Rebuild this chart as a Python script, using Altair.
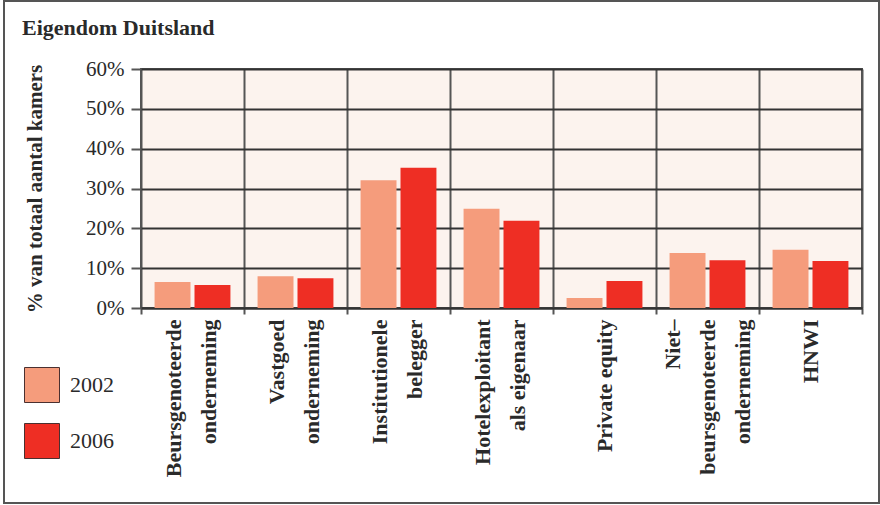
import altair as alt
import pandas as pd

# Ownership of hotel rooms in Germany, share of total rooms by owner type
categories = [
    "Beursgenoteerde|onderneming",
    "Vastgoed|onderneming",
    "Institutionele|belegger",
    "Hotelexploitant|als eigenaar",
    "Private equity",
    "Niet–|beursgenoteerde|onderneming",
    "HNWI",
]
share_2002 = [0.065, 0.080, 0.321, 0.249, 0.025, 0.138, 0.146]
share_2006 = [0.058, 0.075, 0.352, 0.219, 0.068, 0.120, 0.118]
years = ["2002", "2006"]
y_ticks = [0, 0.1, 0.2, 0.3, 0.4, 0.5, 0.6]
title_text = "Eigendom Duitsland"

rows = []
for cat, a, b in zip(categories, share_2002, share_2006):
    rows.append({"eigenaar": cat, "jaar": years[0], "aandeel": a})
    rows.append({"eigenaar": cat, "jaar": years[1], "aandeel": b})
df = pd.DataFrame(rows)

SERIF = "Liberation Serif"
INK = "#2a2a2a"
W, H = 721, 239
PAD_L, PAD_T = 141, 69
LINE_H = 35

# multi-line category labels are shifted so the block of lines is centred on its band
n_breaks = "length(split(datum.value, '|')) - 1"

bars = alt.Chart(df).mark_bar().encode(
    x=alt.X(
        "eigenaar:N",
        sort=categories,
        scale=alt.Scale(paddingInner=0, paddingOuter=0),
        axis=alt.Axis(
            title=None,
            labelAngle=-90,
            labelAlign="right",
            labelBaseline="middle",
            labelExpr="split(datum.label, '|')",
            labelFont=SERIF,
            labelFontSize=22,
            labelFontWeight="bold",
            labelColor=INK,
            labelLineHeight=LINE_H,
            labelPadding=5,
            labelOffset={
                "condition": [
                    {"test": f"{n_breaks} == 2", "value": -LINE_H},
                    {"test": f"{n_breaks} == 1", "value": -LINE_H / 2 - 2},
                ],
                "value": 0,
            },
            tickBand="extent",
            tickSize=6,
            tickColor="#555555",
            tickWidth=2,
            grid=True,
            gridColor="#555555",
            gridWidth=2,
            domainColor="#333333",
            domainWidth=2,
        ),
    ),
    xOffset=alt.XOffset(
        "jaar:N",
        scale=alt.Scale(paddingInner=0.1, paddingOuter=0.34),
    ),
    y=alt.Y(
        "aandeel:Q",
        scale=alt.Scale(domain=[0, 0.6], nice=False),
        axis=alt.Axis(
            title="% van totaal aantal kamers",
            titleFont=SERIF,
            titleFontSize=21,
            titleFontWeight="bold",
            titleColor=INK,
            titlePadding=40,
            values=y_ticks,
            format=".0%",
            labelFont=SERIF,
            labelFontSize=21,
            labelColor=INK,
            labelPadding=7,
            tickSize=10,
            tickColor="#555555",
            tickWidth=2,
            grid=True,
            gridColor="#333333",
            gridWidth=2,
            domain=False,
        ),
    ),
    color=alt.Color(
        "jaar:N",
        scale=alt.Scale(domain=years, range=["#f59c7c", "#ee2e24"]),
        legend=alt.Legend(
            title=None,
            orient="none",
            legendX=-117,
            legendY=298,
            padding=0,
            symbolType="square",
            symbolSize=1225,
            symbolStrokeColor="#4a3030",
            symbolStrokeWidth=1,
            symbolOpacity=1,
            labelFont=SERIF,
            labelFontSize=22,
            labelColor=INK,
            labelOffset=10,
            rowPadding=16,
        ),
    ),
)

# Heading in the top-left corner of the figure
heading = alt.Chart(alt.Data(values=[{"t": title_text}])).mark_text(
    align="left", baseline="alphabetic", font=SERIF, fontSize=22,
    fontWeight="bold", color=INK,
).encode(
    text="t:N",
    x=alt.value(22 - PAD_L),
    y=alt.value(35 - PAD_T),
)

# Outer frame around the whole figure
frame = alt.Chart(alt.Data(values=[{}])).mark_rect(
    fill=None, stroke="#555555", strokeWidth=2
).encode(
    x=alt.value(4 - PAD_L),
    x2=alt.value(879 - PAD_L),
    y=alt.value(1 - PAD_T),
    y2=alt.value(503 - PAD_T),
)

chart = alt.layer(bars, heading, frame).properties(
    width=W,
    height=H,
    autosize=alt.AutoSizeParams(type="none"),
    padding={"left": PAD_L, "top": PAD_T, "right": 880 - PAD_L - W, "bottom": 505 - PAD_T - H},
    background="white",
).configure_view(
    fill="#fcf3ee", stroke="#555555", strokeWidth=2
)

chart.save("out.html", embed_options={"renderer": "svg", "actions": False})
